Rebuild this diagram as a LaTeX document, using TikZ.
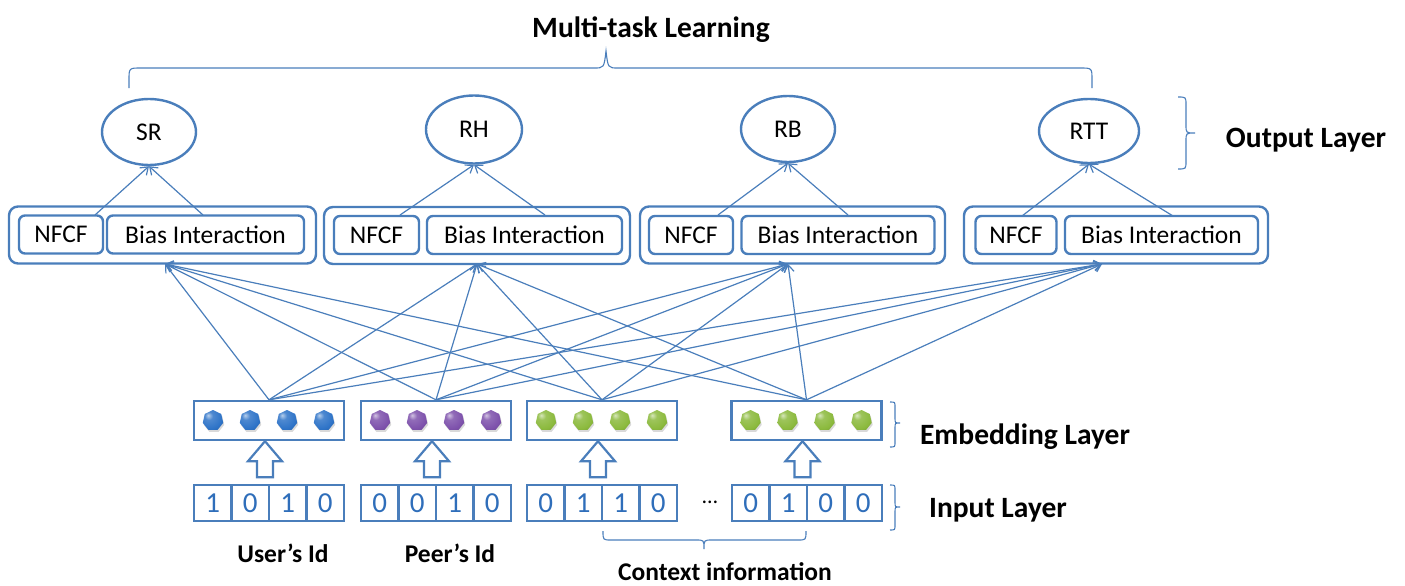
\documentclass[tikz,border=0pt]{standalone}
\usepackage{fontspec}
\setmainfont{Carlito}
\usetikzlibrary{shapes.geometric,arrows.meta,shadows,calc}
\definecolor{ln}{HTML}{4A7EBB}
\definecolor{dig}{HTML}{2F6EBA}
\definecolor{bblue}{HTML}{2F74C8}
\definecolor{bpurple}{HTML}{7E52AC}
\definecolor{bgreen}{HTML}{8CBA3E}
\colorlet{unitcol}{bblue}

% glossy sphere shading that follows the colour stored in unitcol
\pgfdeclareradialshading[unitcol]{unitball}{\pgfpoint{-12bp}{12bp}}{%
  color(0bp)=(unitcol!35!white); color(10bp)=(unitcol!85!white);
  color(28bp)=(unitcol); color(45bp)=(unitcol!80!black); color(70bp)=(unitcol!60!black)}

\tikzset{
  outerbox/.style={draw=ln, line width=2.4pt, rounded corners=9pt, minimum height=57pt, inner sep=0pt},
  innerbox/.style={draw=ln, line width=2.4pt, rounded corners=6pt, minimum height=38pt, inner sep=0pt,
                   font=\fontsize{25.5}{28}\selectfont},
  task/.style={ellipse, draw=ln, line width=2.4pt, inner sep=0pt, font=\fontsize{25.5}{28}\selectfont},
  conn/.style={draw=ln, line width=1.2pt, -{Straight Barb[length=7pt,width=10pt,line width=1.2pt]}},
  embbox/.style={draw=ln, line width=2.4pt, minimum width=150pt, minimum height=39pt, inner sep=0pt},
  cell/.style={draw=ln, line width=2.2pt, minimum width=37.5pt, minimum height=36pt, inner sep=0pt,
               text=dig, font=\fontsize{29}{30}\selectfont},
  unitcolor/.code={\colorlet{unitcol}{#1}},
  unit/.style={regular polygon, regular polygon sides=7, minimum size=21pt, inner sep=0pt,
               shading=unitball, drop shadow={shadow xshift=1pt, shadow yshift=-2pt, opacity=0.3}},
  bracepath/.style={draw=ln, line width=1.1pt},
  layerlab/.style={font=\bfseries\fontsize{29.5}{32}\selectfont},
  sublab/.style={font=\bfseries\fontsize{25.5}{28}\selectfont},
  uparrow/.pic={\draw[ln, line width=2.2pt, fill=white, line join=miter]
      (0,0) -- (17,20) -- (8,20) -- (8,36) -- (-8,36) -- (-8,20) -- (-17,20) -- cycle;}
}

\begin{document}
\begin{tikzpicture}[x=1pt,y=-1pt]
\useasboundingbox (0,0) rectangle (1405,586);

% ---- title and top brace
\node[layerlab] (mtl) at (651,30) {Multi-task Learning};
\draw[bracepath] (129,88) -- (129,80) .. controls (129,68) .. (141,68) -- (594,68)
  .. controls (604,68) .. (606,51) .. controls (608,68) .. (618,68) -- (1080,68)
  .. controls (1092,68) .. (1092,80) -- (1092,88);

% ---- task outputs
\node[task, minimum width=94pt, minimum height=66pt] (sr)  at (149,132) {SR};
\node[task, minimum width=96pt, minimum height=68pt] (rh)  at (474,129.5) {RH};
\node[task, minimum width=94pt, minimum height=66pt] (rb)  at (788,129) {RB};
\node[task, minimum width=100pt, minimum height=64pt] (rtt) at (1089,131) {RTT};

% ---- output layer brace and label
\draw[bracepath] (1178,97) .. controls (1186,97) .. (1186,105) -- (1186,125)
  .. controls (1186,133) .. (1195,133) .. controls (1186,133) .. (1186,141) -- (1186,161)
  .. controls (1186,169) .. (1178,169);
\node[layerlab] (outlab) at (1306,140) {Output Layer};

% ---- task towers
\node[outerbox, minimum width=307pt] (g1) at (162.5,235) {};
\node[innerbox, minimum width=84pt]  (nf1) at (61,234.5) {NFCF};
\node[innerbox, minimum width=197pt] (bi1) at (205.5,234.5) {Bias Interaction};

\node[outerbox, minimum width=306pt] (g2) at (477,235.5) {};
\node[innerbox, minimum width=85pt]  (nf2) at (376.5,235) {NFCF};
\node[innerbox, minimum width=195pt] (bi2) at (524.5,235) {Bias Interaction};

\node[outerbox, minimum width=305pt] (g3) at (792.5,235) {};
\node[innerbox, minimum width=84pt]  (nf3) at (691,235) {NFCF};
\node[innerbox, minimum width=193pt] (bi3) at (838,235) {Bias Interaction};

\node[outerbox, minimum width=304pt] (g4) at (1116,235) {};
\node[innerbox, minimum width=81pt]  (nf4) at (1016,235) {NFCF};
\node[innerbox, minimum width=193pt] (bi4) at (1161.5,235) {Bias Interaction};

% ---- tower-to-output connectors
\coordinate (a1) at (95,215);   \coordinate (b1) at (203,215);
\coordinate (a2) at (400,215);  \coordinate (b2) at (545,215);
\coordinate (a3) at (718,215);  \coordinate (b3) at (848,215);
\coordinate (a4) at (1022,216); \coordinate (b4) at (1173,216);
\draw[conn] (a1) -- (sr.south);  \draw[conn] (b1) -- (sr.south);
\draw[conn] (a2) -- (rh.south);  \draw[conn] (b2) -- (rh.south);
\draw[conn] (a3) -- (rb.south);  \draw[conn] (b3) -- (rb.south);
\draw[conn] (a4) -- (rtt.south); \draw[conn] (b4) -- (rtt.south);

% ---- embedding layer
\node[embbox] (e1) at (269,420.5) {};
\node[embbox] (e2) at (436,420.5) {};
\node[embbox] (e3) at (602,420.5) {};
\node[embbox] (e4) at (806.5,420.5) {};
\foreach \k/\c in {1/bblue, 2/bpurple, 3/bgreen, 4/bgreen}{
  \foreach \i/\dx in {1/-56, 2/-19, 3/18, 4/55}{
    \node[unitcolor=\c, unit] (u\k\i) at ($(e\k.center)+(\dx,0)$) {};
  }
}

% ---- embedding-to-tower connectors (every field feeds every tower)
\coordinate (t1) at (165,264);
\coordinate (t2) at (477,264);
\coordinate (t3) at (788,264);
\coordinate (t4) at (1102,264);
\foreach \s in {1,...,4}{
  \foreach \t in {1,...,4}{
    \draw[conn] (e\s.north) -- (t\t);
  }
}

% ---- input layer (one-hot fields)
\foreach \k/\x/\bits in {1/194/{1,0,1,0}, 2/361/{0,0,1,0}, 3/527/{0,1,1,0}, 4/732/{0,1,0,0}}{
  \foreach \b [count=\j] in \bits{
    \node[cell] (in\k\j) at ({\x+18.75+37.5*(\j-1)},503) {\b};
  }
}
\node[font=\fontsize{22}{24}\selectfont] (dots) at (710,502) {…};

% ---- hollow arrows from inputs to embeddings
\pic at ($(e1.south)+(-4,0)$) {uparrow};
\pic at ($(e2.south)+(-4,0)$) {uparrow};
\pic at ($(e3.south)+(-4,0)$) {uparrow};
\pic at ($(e4.south)+(-4,0)$) {uparrow};

% ---- layer braces and labels
\draw[bracepath] (890,402) .. controls (895,402) .. (895,407) -- (895,418)
  .. controls (895,423) .. (900,423) .. controls (895,423) .. (895,428) -- (895,442)
  .. controls (895,447) .. (890,447);
\node[layerlab] (emblab) at (1025,437) {Embedding Layer};

\draw[bracepath] (890,485) .. controls (895,485) .. (895,490) -- (895,502)
  .. controls (895,507) .. (900,507) .. controls (895,507) .. (895,512) -- (895,525)
  .. controls (895,530) .. (890,530);
\node[layerlab] (inlab) at (998,510) {Input Layer};

% ---- field captions
\node[sublab] (uid) at (283,553) {User's Id};
\node[sublab] (pid) at (450,553) {Peer's Id};
\draw[bracepath] (603,531) .. controls (603,540) .. (611,540) -- (696,540)
  .. controls (704,540) .. (704,549) .. controls (704,540) .. (712,540) -- (798,540)
  .. controls (806,540) .. (806,531);
\node[sublab] (ctx) at (725,572) {Context information};
\end{tikzpicture}
\end{document}
